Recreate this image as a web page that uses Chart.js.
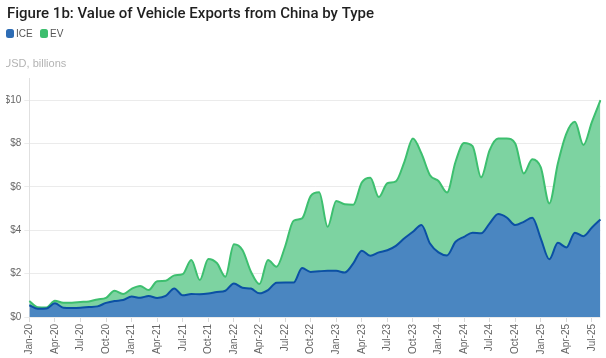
<!DOCTYPE html>
<html><head><meta charset="utf-8">
<script src="https://cdn.jsdelivr.net/npm/chart.js@4.4.0/dist/chart.umd.min.js"></script>
<style>
html,body{margin:0;padding:0;background:#fff;overflow:hidden;width:606px;height:358px}
#wrap{position:absolute;left:6px;top:0;width:600px;height:358px}
</style></head>
<body><div id="wrap"><canvas id="c"></canvas></div>
<script>
const months = ["Jan-20","Feb-20","Mar-20","Apr-20","May-20","Jun-20","Jul-20","Aug-20","Sep-20","Oct-20","Nov-20","Dec-20",
"Jan-21","Feb-21","Mar-21","Apr-21","May-21","Jun-21","Jul-21","Aug-21","Sep-21","Oct-21","Nov-21","Dec-21",
"Jan-22","Feb-22","Mar-22","Apr-22","May-22","Jun-22","Jul-22","Aug-22","Sep-22","Oct-22","Nov-22","Dec-22",
"Jan-23","Feb-23","Mar-23","Apr-23","May-23","Jun-23","Jul-23","Aug-23","Sep-23","Oct-23","Nov-23","Dec-23",
"Jan-24","Feb-24","Mar-24","Apr-24","May-24","Jun-24","Jul-24","Aug-24","Sep-24","Oct-24","Nov-24","Dec-24",
"Jan-25","Feb-25","Mar-25","Apr-25","May-25","Jun-25","Jul-25","Aug-25"];

const iceValues = [0.54,0.38,0.39,0.63,0.43,0.42,0.43,0.46,0.49,0.65,0.74,0.78,
0.94,0.89,0.97,0.88,0.97,1.32,1.00,1.06,1.05,1.08,1.15,1.21,
1.55,1.35,1.31,1.09,1.24,1.58,1.59,1.59,2.26,2.08,2.11,2.13,
2.13,2.05,2.47,3.06,2.82,2.98,3.08,3.28,3.63,3.93,4.24,3.39,
2.98,2.84,3.47,3.70,3.89,3.86,4.32,4.75,4.59,4.24,4.39,4.58,
3.62,2.66,3.42,3.21,3.89,3.73,4.13,4.50];

const evValues = [0.20,0.07,0.05,0.12,0.23,0.24,0.26,0.26,0.32,0.23,0.47,0.28,
0.36,0.54,0.27,0.77,0.70,0.60,0.98,1.57,0.66,1.60,1.34,0.65,
1.80,1.74,0.78,0.43,1.39,0.74,1.65,2.85,2.29,3.50,3.64,2.03,
3.22,3.15,2.71,3.14,3.60,2.55,3.09,2.98,3.53,4.30,3.30,3.15,
3.29,2.90,3.69,4.33,3.99,2.58,3.38,3.48,3.64,3.76,2.23,2.70,
3.28,2.58,3.66,5.25,5.11,4.20,4.87,5.50];

const yTicks = [0,2,4,6,8,10];
const titleText = "Figure 1b: Value of Vehicle Exports from China by Type";
const unitText = "USD, billions";
const seriesNames = ["ICE","EV"];

const ICE_LINE = "#0b50a4", ICE_FILL = "#4a86c1";
const EV_LINE = "#3dbf6f", EV_FILL = "#7dd3a1";
const LABEL_FONT = "'Liberation Sans', Arial, sans-serif";

const overlay = {
  id: 'overlay',
  afterDraw(chart) {
    const ctx = chart.ctx;
    ctx.save();
    let size = 16;
    do {
      ctx.font = `500 ${size}px Roboto, sans-serif`;
      if (ctx.measureText(titleText).width <= 372) break;
      size -= 0.25;
    } while (size > 10);
    ctx.fillStyle = "#1f1f1f";
    ctx.textBaseline = "alphabetic";
    ctx.textAlign = "left";
    ctx.fillText(titleText, 1, 18);
    ctx.font = `10px ${LABEL_FONT}`;
    ctx.textBaseline = "middle";
    const items = [[seriesNames[0], "#2e6db5", 0], [seriesNames[1], "#3dbe6e", 34]];
    items.forEach(([t, col, x]) => {
      ctx.fillStyle = col;
      ctx.beginPath();
      if (ctx.roundRect) ctx.roundRect(x, 29, 8, 9, 2.5); else ctx.rect(x, 29, 8, 9);
      ctx.fill();
      ctx.fillStyle = "#555";
      ctx.fillText(t, x + 10, 34);
    });
    ctx.font = `11px ${LABEL_FONT}`;
    ctx.fillStyle = "#b3b3b3";
    ctx.fillText(unitText, -2.7, 64);
    ctx.restore();
  }
};

new Chart(document.getElementById('c'), {
  type: 'line',
  data: {
    labels: months,
    datasets: [
      { label: seriesNames[0], data: iceValues, borderColor: ICE_LINE, backgroundColor: ICE_FILL,
        fill: 'origin', borderWidth: 2, pointRadius: 0, cubicInterpolationMode: 'monotone' },
      { label: seriesNames[1], data: evValues, borderColor: EV_LINE, backgroundColor: EV_FILL,
        fill: '-1', borderWidth: 2, pointRadius: 0, cubicInterpolationMode: 'monotone' }
    ]
  },
  options: {
    responsive: true, maintainAspectRatio: false, animation: false,
    layout: { padding: { top: 78.5, right: 3, left: 0, bottom: 0 } },
    plugins: { legend: { display: false }, title: { display: false }, tooltip: { enabled: false } },
    scales: {
      x: {
        grid: { drawOnChartArea: false, drawTicks: true, tickLength: 5, color: "#d9d9d9" },
        border: { display: false },
        ticks: { autoSkip: false, maxRotation: 90, minRotation: 90, padding: 2,
                 color: "#666", font: { family: LABEL_FONT, size: 10 } },
        afterBuildTicks: s => { s.ticks = s.ticks.filter(t => t.value % 3 === 0); },
        afterFit: s => { s.height = 41; }
      },
      y: {
        stacked: true, min: 0, max: 11,
        grid: { color: "#ebebeb", tickLength: 5, drawTicks: true },
        border: { display: true, color: "#e0e0e0" },
        ticks: { padding: 3, color: "#666", font: { family: LABEL_FONT, size: 10 },
                 callback: v => '$' + v },
        afterBuildTicks: s => { s.ticks = yTicks.map(v => ({ value: v })); },
        afterFit: s => { s.width = 23.3; }
      }
    }
  },
  plugins: [overlay]
});
</script>
</body></html>
